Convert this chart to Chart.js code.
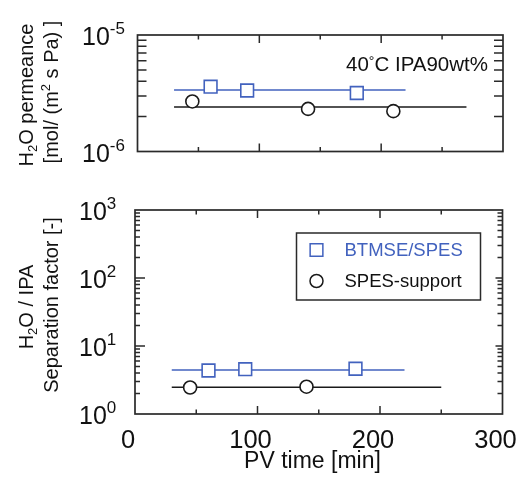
<!DOCTYPE html>
<html><head><meta charset="utf-8">
<script src="https://cdn.jsdelivr.net/npm/chart.js@4/dist/chart.umd.min.js"></script>
<style>
html,body{margin:0;padding:0;background:#fff;}
#wrap{position:relative;width:519px;height:477px;overflow:hidden;}
canvas{position:absolute;left:0;top:0;}
</style>
</head><body>
<div id="wrap"><canvas id="c1" width="519" height="477"></canvas><canvas id="c2" width="519" height="477"></canvas></div>
<script>
// ---------- data ----------
const seriesNames = ['BTMSE/SPES', 'SPES-support'];
// top panel: H2O permeance
const permTimeBTMSE = [60, 90, 180];
const permBTMSE = [3.6e-6, 3.34e-6, 3.18e-6];
const permTimeSupport = [45, 140, 210];
const permSupport = [2.69e-6, 2.32e-6, 2.22e-6];
const permFitTimeBTMSE = [30, 220];
const permFitBTMSE = [3.37e-6, 3.37e-6];
const permFitTimeSupport = [30, 270];
const permFitSupport = [2.41e-6, 2.41e-6];
// bottom panel: separation factor
const sepTimeBTMSE = [60, 90, 180];
const sepBTMSE = [4.36, 4.56, 4.63];
const sepTimeSupport = [45, 140];
const sepSupport = [2.45, 2.52];
const sepFitTimeBTMSE = [30, 220];
const sepFitBTMSE = [4.44, 4.44];
const sepFitTimeSupport = [30, 250];
const sepFitSupport = [2.47, 2.47];
// ticks
const xTickValues = [0, 100, 200, 300];
const xTickLabels = ['0', '100', '200', '300'];
const xMinorValues = [50, 100, 150, 200, 250];
const permTickValues = [1e-6, 1e-5];
const permTickExp = ['-6', '-5'];
const sepTickValues = [1, 10, 100, 1000];
const sepTickExp = ['0', '1', '2', '3'];

// ---------- style ----------
const FONT = '"Liberation Sans", Arial, Helvetica, sans-serif';
const BLUE = '#4262be';
const BLACK = '#1a1a1a';
const FRAME = '#2a2a2a';

const zip = (xs, ys) => xs.map((x, i) => ({x, y: ys[i]}));
const font = s => s + 'px ' + FONT;

function richWidth(ctx, segs) {
  let w = 0;
  segs.forEach(s => { ctx.font = font(s.size); w += ctx.measureText(s.t).width; });
  return w;
}
function drawRich(ctx, segs, x, y, align) {
  const w = richWidth(ctx, segs);
  let cx = align === 'center' ? x - w / 2 : align === 'right' ? x - w : x;
  ctx.textAlign = 'left';
  ctx.textBaseline = 'alphabetic';
  segs.forEach(s => {
    ctx.font = font(s.size);
    ctx.fillText(s.t, cx, y + (s.dy || 0));
    cx += ctx.measureText(s.t).width;
  });
}

const decorPlugin = {
  id: 'decor',
  afterDraw(chart, args, o) {
    const ctx = chart.ctx, a = chart.chartArea;
    const xs = chart.scales.x, ys = chart.scales.y;
    ctx.save();
    // frame
    ctx.strokeStyle = FRAME;
    ctx.lineWidth = 1.7;
    ctx.strokeRect(a.left, a.top, a.right - a.left, a.bottom - a.top);
    // ticks
    ctx.lineWidth = 1.5;
    ctx.beginPath();
    xMinorValues.forEach(v => {
      const px = xs.getPixelForValue(v);
      const len = (v % 100 === 0) ? 8 : 4.5;
      ctx.moveTo(px, a.bottom); ctx.lineTo(px, a.bottom - len);
      ctx.moveTo(px, a.top); ctx.lineTo(px, a.top + len);
    });
    const lo = Math.round(Math.log10(ys.min)), hi = Math.round(Math.log10(ys.max));
    for (let e = lo; e < hi; e++) {
      for (let m = 1; m <= 9; m++) {
        if (m === 1 && e === lo) continue;
        const py = ys.getPixelForValue(m * Math.pow(10, e));
        const len = m === 1 ? o.yMajorLen : o.yMinorLen;
        ctx.moveTo(a.left, py); ctx.lineTo(a.left + len, py);
        ctx.moveTo(a.right, py); ctx.lineTo(a.right - (m === 1 ? o.yMajorLenR : o.yMinorLenR), py);
      }
    }
    ctx.stroke();
    // y tick labels
    ctx.fillStyle = '#111';
    o.yTicks.forEach((v, i) => {
      const py = ys.getPixelForValue(v);
      drawRich(ctx, [
        {t: '10', size: 25},
        {t: o.yExp[i], size: 17, dy: -11}
      ], o.yLabelLeft, py + 10, 'left');
    });
    // x tick labels
    if (o.xLabels) {
      ctx.font = font(25.5);
      ctx.textAlign = 'center';
      ctx.textBaseline = 'alphabetic';
      xTickValues.forEach((v, i) => {
        ctx.fillText(xTickLabels[i], xs.getPixelForValue(v) - 7, a.bottom + 34);
      });
    }
    // y titles (rotated)
    o.yTitles.forEach(tl => {
      ctx.save();
      ctx.translate(tl.x, tl.y);
      ctx.rotate(-Math.PI / 2);
      drawRich(ctx, tl.segs, 0, 0, 'center');
      ctx.restore();
    });
    // x title
    if (o.xTitle) {
      ctx.font = font(23);
      ctx.textAlign = 'center';
      ctx.fillText(o.xTitle, o.xTitleX, o.xTitleY);
    }
    // annotation
    if (o.annotation) {
      drawRich(ctx, [
        {t: '40', size: 20.5}, {t: '°', size: 14, dy: -5}, {t: 'C IPA90wt%', size: 20.5}
      ], a.right - 15, a.top + 36, 'right');
    }
    // legend
    if (o.legend) {
      const L = o.legend;
      ctx.strokeStyle = FRAME; ctx.lineWidth = 1.5;
      ctx.strokeRect(L.x, L.y, L.w, L.h);
      const ds = chart.data.datasets;
      [0, 1].forEach(k => {
        const d = ds[k];
        const cy = L.y + L.row0 + k * L.rowGap;
        const mx = L.x + 20;
        ctx.lineWidth = 1.5;
        ctx.strokeStyle = d.borderColor;
        ctx.fillStyle = '#fff';
        ctx.beginPath();
        if (d.pointStyle === 'rect') {
          const s = Math.SQRT1_2 * d.pointRadius;
          ctx.rect(mx - s, cy - s, 2 * s, 2 * s);
        } else {
          ctx.arc(mx, cy, d.pointRadius, 0, Math.PI * 2);
        }
        ctx.fill(); ctx.stroke();
        ctx.fillStyle = k === 0 ? BLUE : '#111';
        ctx.font = font(18.5);
        ctx.textAlign = 'left';
        ctx.textBaseline = 'middle';
        ctx.fillText(d.label, L.x + 48, cy + 1);
      });
    }
    ctx.restore();
  }
};

function datasets(tb, b, ts, s, ftb, fb, fts, fs) {
  return [
    {label: seriesNames[0], data: zip(tb, b), pointStyle: 'rect', pointRadius: 9,
     borderColor: BLUE, pointBorderColor: BLUE, backgroundColor: '#fff', pointBackgroundColor: '#fff',
     borderWidth: 1.6, pointBorderWidth: 1.6, showLine: false, order: 0},
    {label: seriesNames[1], data: zip(ts, s), pointStyle: 'circle', pointRadius: 6.5,
     borderColor: BLACK, pointBorderColor: BLACK, backgroundColor: '#fff', pointBackgroundColor: '#fff',
     borderWidth: 1.6, pointBorderWidth: 1.6, showLine: false, order: 0},
    {label: 'fit1', data: zip(ftb, fb), showLine: true, pointRadius: 0, borderColor: BLUE, borderWidth: 1.6, order: 1},
    {label: 'fit2', data: zip(fts, fs), showLine: true, pointRadius: 0, borderColor: BLACK, borderWidth: 1.6, order: 1}
  ];
}

function baseOptions(padding, yMin, yMax, decor) {
  return {
    responsive: false, animation: false, devicePixelRatio: 1, events: [],
    layout: {padding},
    plugins: {legend: {display: false}, tooltip: {enabled: false}, decor},
    scales: {
      x: {type: 'linear', min: 0, max: 300, display: false},
      y: {type: 'logarithmic', min: yMin, max: yMax, display: false}
    }
  };
}

new Chart(document.getElementById('c1'), {
  type: 'scatter',
  data: {datasets: datasets(permTimeBTMSE, permBTMSE, permTimeSupport, permSupport,
    permFitTimeBTMSE, permFitBTMSE, permFitTimeSupport, permFitSupport)},
  options: baseOptions({left: 137.5, top: 35, right: 16, bottom: 325.5}, 1e-6, 1e-5, {
    yMajorLen: 9, yMinorLen: 9, yMajorLenR: 9, yMinorLenR: 9,
    yTicks: permTickValues, yExp: permTickExp, yLabelLeft: 82,
    xLabels: false, annotation: true,
    yTitles: [
      {x: 32.5, y: 95, segs: [{t: 'H', size: 20}, {t: '2', size: 13, dy: 4}, {t: 'O permeance', size: 20}]},
      {x: 58, y: 92, segs: [{t: '[mol/ (m', size: 20}, {t: '2', size: 13, dy: -8}, {t: ' s Pa) ]', size: 20}]}
    ]
  }),
  plugins: [decorPlugin]
});

new Chart(document.getElementById('c2'), {
  type: 'scatter',
  data: {datasets: datasets(sepTimeBTMSE, sepBTMSE, sepTimeSupport, sepSupport,
    sepFitTimeBTMSE, sepFitBTMSE, sepFitTimeSupport, sepFitSupport)},
  options: baseOptions({left: 135, top: 210, right: 16.5, bottom: 63}, 1, 1000, {
    yMajorLen: 10, yMinorLen: 5, yMajorLenR: 7, yMinorLenR: 5,
    yTicks: sepTickValues, yExp: sepTickExp, yLabelLeft: 79,
    xLabels: true, annotation: false,
    xTitle: 'PV time [min]', xTitleX: 312.5, xTitleY: 468,
    yTitles: [
      {x: 33, y: 307, segs: [{t: 'H', size: 20}, {t: '2', size: 13, dy: 4}, {t: 'O / IPA', size: 20}]},
      {x: 58, y: 305, segs: [{t: 'Separation factor [-]', size: 20}]}
    ],
    legend: {x: 296.5, y: 233, w: 184, h: 67, row0: 17, rowGap: 31}
  }),
  plugins: [decorPlugin]
});
</script>
</body></html>
